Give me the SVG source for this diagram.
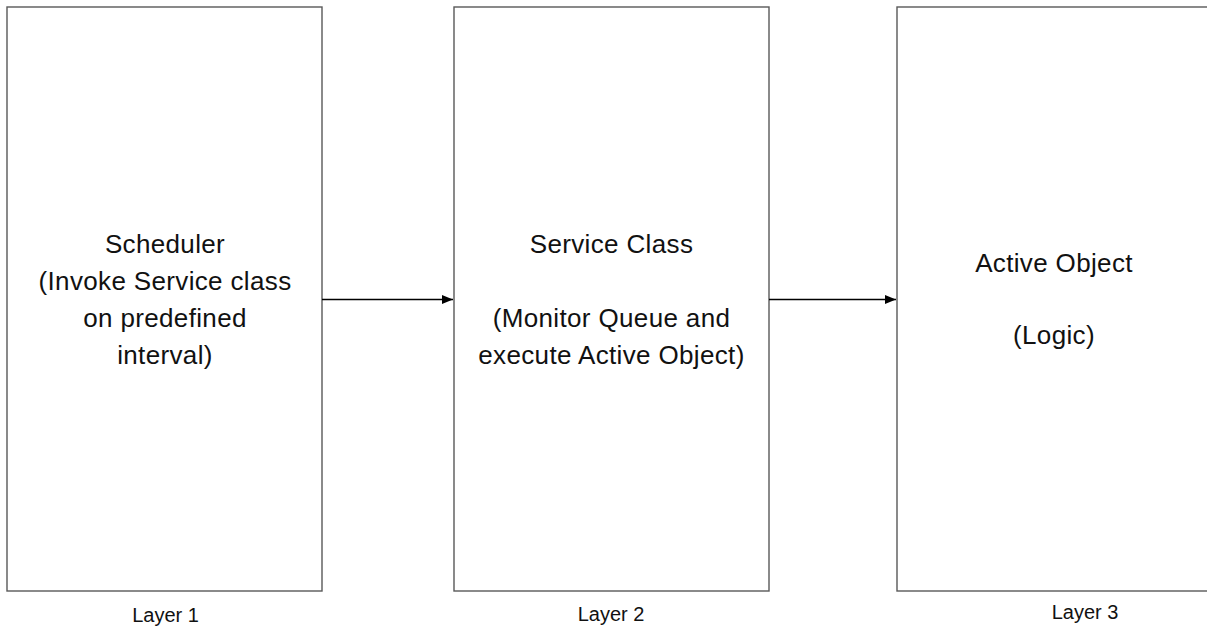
<svg xmlns="http://www.w3.org/2000/svg" width="1207" height="630" viewBox="0 0 1207 630">
  <style>
    .box { fill: #ffffff; stroke: #595959; stroke-width: 1.4; }
    .main { font-family: "Liberation Sans", Arial, sans-serif; font-size: 26px; letter-spacing: 0.35px; fill: #111111; text-anchor: middle; }
    .layer { font-family: "Liberation Sans", Arial, sans-serif; font-size: 20px; fill: #111111; text-anchor: middle; }
    .conn { stroke: #000000; stroke-width: 1.4; fill: none; }
  </style>
  <defs>
    <marker id="arrow" markerWidth="11" markerHeight="9" refX="11" refY="4.5" orient="auto" markerUnits="userSpaceOnUse">
      <path d="M0,0 L11,4.5 L0,9 Z" fill="#000000"/>
    </marker>
  </defs>
  <rect width="1207" height="630" fill="#ffffff"/>

  <g id="scheduler">
    <rect class="box" x="7" y="7" width="315" height="584"/>
    <text class="main" x="165" y="253">Scheduler</text>
    <text class="main" x="165" y="290">(Invoke Service class</text>
    <text class="main" x="165" y="327">on predefined</text>
    <text class="main" x="165" y="364">interval)</text>
  </g>

  <g id="service-class">
    <rect class="box" x="454" y="7" width="315" height="584"/>
    <text class="main" x="611.5" y="253">Service Class</text>
    <text class="main" x="611.5" y="327">(Monitor Queue and</text>
    <text class="main" x="611.5" y="364">execute Active Object)</text>
  </g>

  <g id="active-object">
    <rect class="box" x="897" y="7" width="316" height="584"/>
    <text class="main" x="1054" y="272">Active Object</text>
    <text class="main" x="1054" y="344">(Logic)</text>
  </g>

  <g id="connectors">
    <line class="conn" x1="322" y1="299.5" x2="453" y2="299.5" marker-end="url(#arrow)"/>
    <line class="conn" x1="769" y1="299.5" x2="896" y2="299.5" marker-end="url(#arrow)"/>
  </g>

  <g id="labels">
    <text class="layer" x="165.5" y="622">Layer 1</text>
    <text class="layer" x="611" y="621">Layer 2</text>
    <text class="layer" x="1085" y="619">Layer 3</text>
  </g>
</svg>
